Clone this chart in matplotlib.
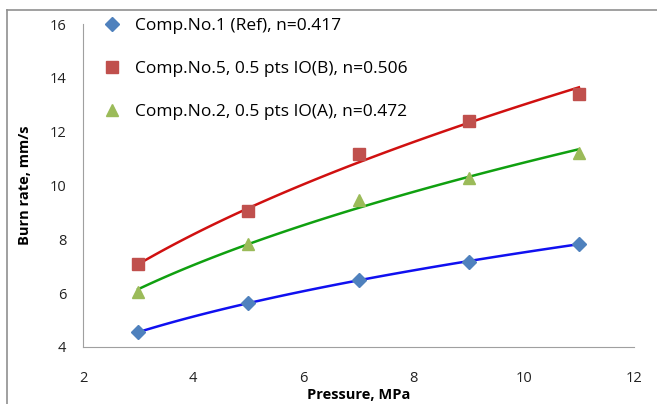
import numpy as np
import matplotlib.pyplot as plt
from matplotlib.lines import Line2D

plt.rcParams['font.family'] = ['Open Sans', 'DejaVu Sans']

pressure = [3, 5, 7, 9, 11]
comp1 = [4.56, 5.63, 6.49, 7.16, 7.83]
comp5 = [7.08, 9.05, 11.17, 12.4, 13.4]
comp2 = [6.04, 7.83, 9.46, 10.28, 11.2]

labels = ['Comp.No.1 (Ref), n=0.417',
          'Comp.No.5, 0.5 pts IO(B), n=0.506',
          'Comp.No.2, 0.5 pts IO(A), n=0.472']
exponents = [0.417, 0.506, 0.472]


def power_fit(x, y, n):
    # least squares for a in y = a * x^n, n fixed
    x = np.asarray(x, float)
    y = np.asarray(y, float)
    xn = x ** n
    return np.sum(xn * y) / np.sum(xn * xn)


fig = plt.figure(figsize=(6.57, 4.04), dpi=100)
ax = fig.add_axes([83 / 657, 57 / 404, 551 / 657, 323 / 404])

series = [
    (comp1, 'D', '#4F81BD', '#1010F0', 7),
    (comp5, 's', '#C0504D', '#D01010', 8),
    (comp2, '^', '#9BBB59', '#10A010', 8),
]

xs = np.linspace(3, 11, 100)
handles = []
for (vals, mk, mc, lc, ms), n, lab in zip(series, exponents, labels):
    a = power_fit(pressure, vals, n)
    ax.plot(xs, a * xs ** n, color=lc, lw=1.8, zorder=2)
    h, = ax.plot(pressure, vals, linestyle='none', marker=mk, color=mc,
                 markersize=ms, zorder=3, label=lab)
    handles.append(h)

ax.set_xlim(2, 12)
ax.set_ylim(4, 16)
ax.set_xticks([2, 4, 6, 8, 10, 12])
ax.set_yticks([4, 6, 8, 10, 12, 14, 16])
ax.tick_params(length=0, labelsize=10.5, colors='#222222')
ax.tick_params(axis='y', pad=12)
ax.tick_params(axis='x', pad=17)
for s in ['top', 'right']:
    ax.spines[s].set_visible(False)
for s in ['left', 'bottom']:
    ax.spines[s].set_color('#A0A0A0')

ax.set_xlabel('Pressure, MPa', fontsize=10.5, fontweight='bold', labelpad=2)
ax.set_ylabel('Burn rate, mm/s', fontsize=10.5, fontweight='bold', labelpad=13)

ax.legend(handles=handles, loc='upper left', bbox_to_anchor=(0.008, 1.066),
          frameon=False, labelspacing=1.53, handlelength=1.0,
          handletextpad=0.84, prop={'size': 12.5})

# outer chart border
fig.add_artist(Line2D([7 / 657, 7 / 657], [0, 394 / 404], color='#909090', lw=1.2))
fig.add_artist(Line2D([7 / 657, 1], [394 / 404, 394 / 404], color='#909090', lw=1.2))

fig.savefig('out.png', dpi=100)
